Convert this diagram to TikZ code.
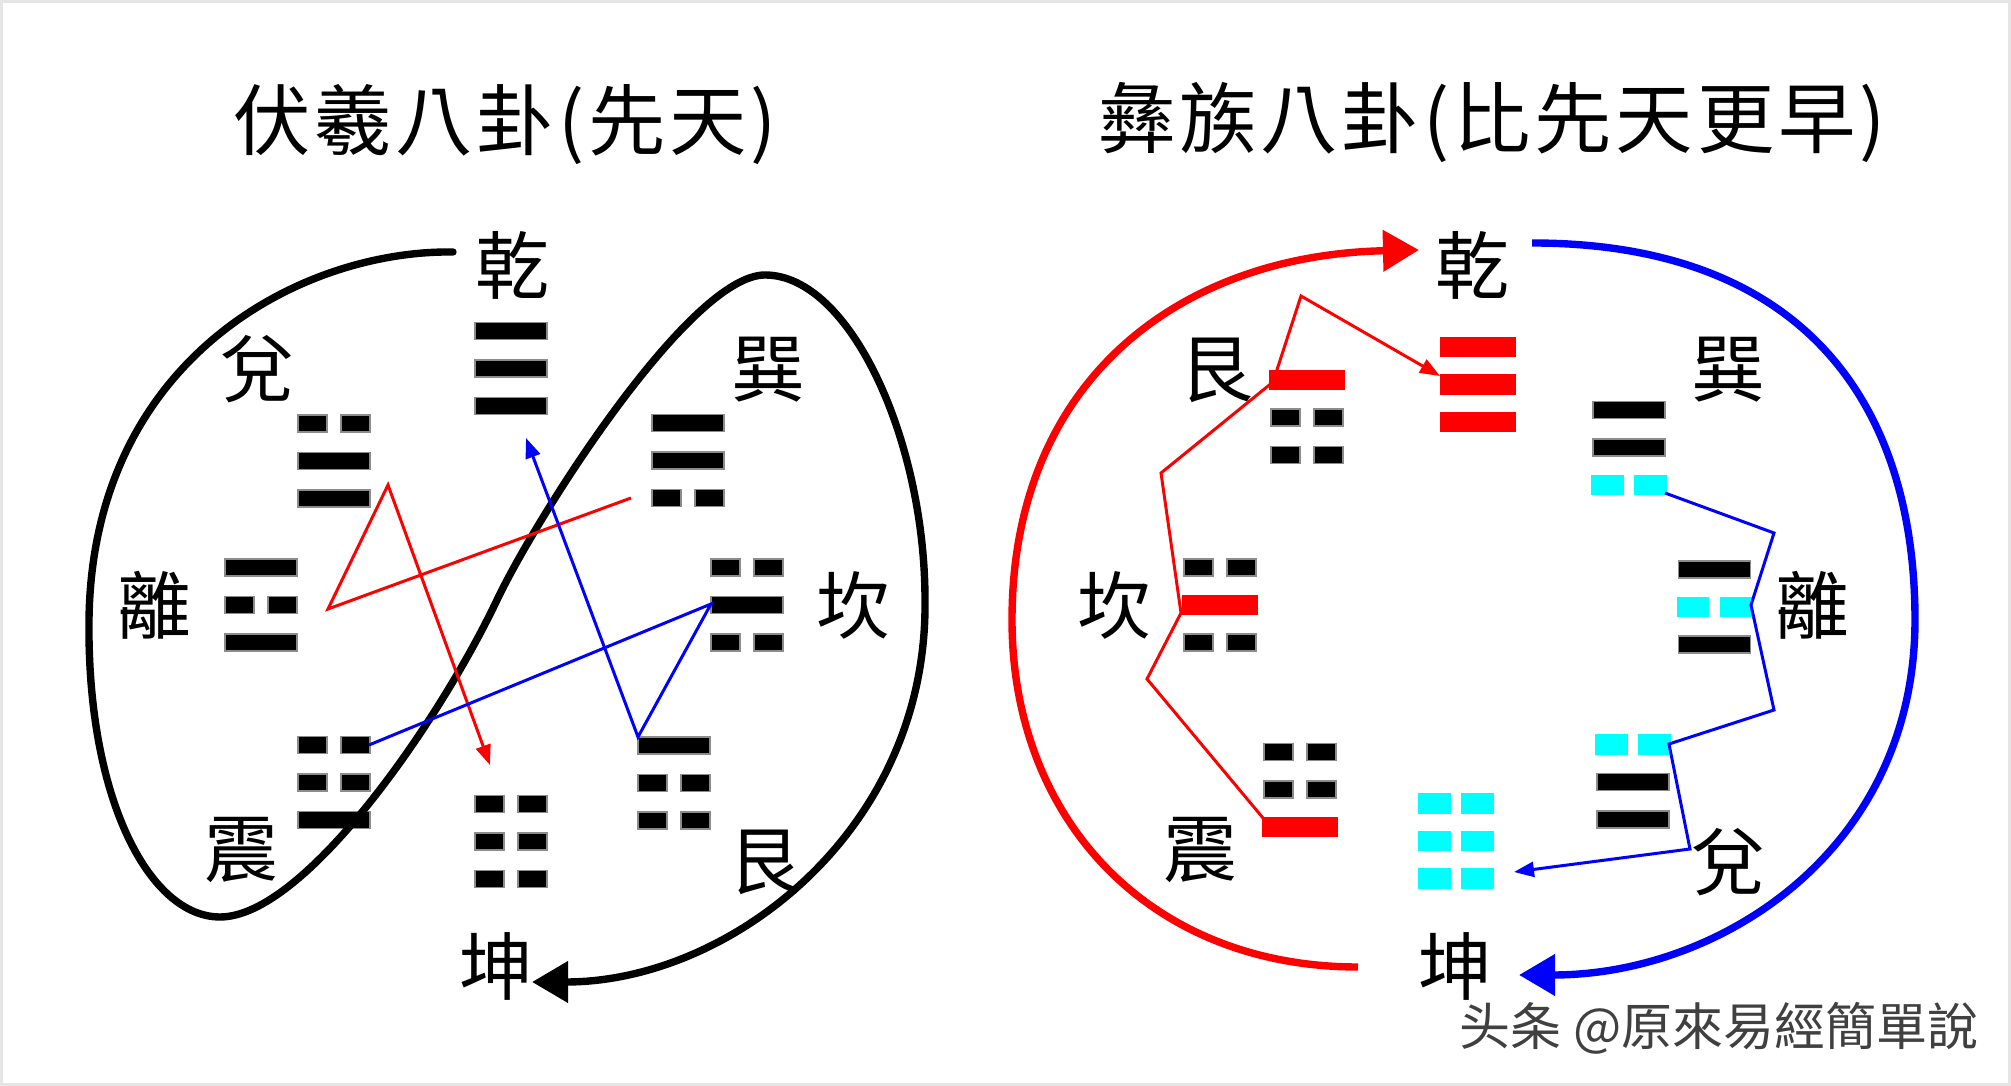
\documentclass[tikz,border=0pt]{standalone}
\usepackage{fontspec}
\setmainfont{Noto Sans CJK TC}
\usetikzlibrary{arrows.meta}

\definecolor{aqua}{RGB}{0,255,255}
\tikzset{
  kbar/.style={fill=black,draw=black!45,line width=0.4pt},
  rbar/.style={fill=red,draw=red,line width=1pt},
  cbar/.style={fill=aqua,draw=aqua,line width=1pt},
  gualabel/.style={font=\fontsize{21}{21}\selectfont,inner sep=0pt},
  title/.style={font=\fontsize{22}{22}\selectfont,inner sep=0pt},
  bigcurve/.style={line width=2.1pt},
  thinpath/.style={line width=0.85pt},
  bigtip/.style={-{Triangle[length=0.36cm,width=0.4cm]}},
  smalltip/.style={-{Triangle[length=0.2cm,width=0.15cm]}},
}

% one line of a trigram: centre x, centre y, 1 = yang / 0 = yin, style
\newcommand\yao[4]{%
  \ifnum#3=1\relax
    \path[#4] ({#1-36},{#2-8.5}) rectangle ({#1+36},{#2+8.5});
  \else
    \path[#4] ({#1-36},{#2-8.5}) rectangle ({#1-7},{#2+8.5});
    \path[#4] ({#1+7},{#2-8.5}) rectangle ({#1+36},{#2+8.5});
  \fi}
% a trigram: centre x, y of top line, lines from the top as type/style
\newcommand\gua[3]{%
  \foreach \t/\s [count=\k from 0] in {#3} {\yao{#1}{#2+37.5*\k}{\t}{\s}}}

\begin{document}
\begin{tikzpicture}[x=0.01cm,y=-0.01cm]
\useasboundingbox (0,0) rectangle (2011,1086);
\fill[white] (0,0) rectangle (2011,1086);
\draw[black!10,line width=0.03cm] (1.5,1.5) rectangle (2009.5,1084.5);

% titles
\node[title] (titleL) at (505,125) {\addfontfeature{LetterSpace=5}伏羲八卦(先天)};
\node[title] (titleR) at (1492,122) {\addfontfeature{LetterSpace=5}彝族八卦(比先天更早)};

%% left: Fuxi
\gua{511}{331}{1/kbar,1/kbar,1/kbar}
\gua{334}{423.5}{0/kbar,1/kbar,1/kbar}
\gua{688}{423}{1/kbar,1/kbar,0/kbar}
\gua{261}{567.5}{1/kbar,0/kbar,1/kbar}
\gua{747}{567.5}{0/kbar,1/kbar,0/kbar}
\gua{334}{745}{0/kbar,0/kbar,1/kbar}
\gua{511}{804}{0/kbar,0/kbar,0/kbar}
\gua{674}{745.5}{1/kbar,0/kbar,0/kbar}

\node[gualabel] (qian) at (512,265) {乾};
\node[gualabel] (dui) at (257,369) {兌};
\node[gualabel] (xun) at (768,370) {巽};
\node[gualabel] (li) at (154,605) {離};
\node[gualabel] (kan) at (853,605) {坎};
\node[gualabel] (zhen) at (241,850) {震};
\node[gualabel] (kun) at (496,966) {坤};
\node[gualabel] (gen) at (765,862) {艮};

\coordinate (loopS) at (453,252);
\coordinate (loopE) at (532,982);
\draw[bigcurve,line cap=round,bigtip] (loopS)
  .. controls (300,250) and (92,360) .. (89,620)
  .. controls (87,800) and (150,917) .. (220,917)
  .. controls (305,917) and (440,720) .. (497,600)
  .. controls (537,516) and (690,275) .. (765,275)
  .. controls (850,275) and (925,440) .. (925,600)
  .. controls (928,830) and (730,982) .. (loopE);

\coordinate (lr1) at (631,498);
\coordinate (lr2) at (328,609);
\coordinate (lr3) at (388,485);
\coordinate (lr4) at (490,765);
\draw[thinpath,red,smalltip] (lr1) -- (lr2) -- (lr3) -- (lr4);

\coordinate (lb1) at (369,745);
\coordinate (lb2) at (711,604);
\coordinate (lb3) at (638,737);
\coordinate (lb4) at (526,438);
\draw[thinpath,blue,smalltip] (lb1) -- (lb2) -- (lb3) -- (lb4);

%% right: Yi
\gua{1478}{347}{1/rbar,1/rbar,1/rbar}
\gua{1307}{380}{1/rbar,0/kbar,0/kbar}
\gua{1629}{410}{1/kbar,1/kbar,0/cbar}
\gua{1220}{567.5}{0/kbar,1/rbar,0/kbar}
\gua{1714.5}{569.5}{1/kbar,0/cbar,1/kbar}
\gua{1300}{752}{0/kbar,0/kbar,1/rbar}
\gua{1456}{803.5}{0/cbar,0/cbar,0/cbar}
\gua{1633}{744.5}{0/cbar,1/kbar,1/kbar}

\node[gualabel] (qianR) at (1472,265) {乾};
\node[gualabel] (genR) at (1216,370) {艮};
\node[gualabel] (xunR) at (1728,370) {巽};
\node[gualabel] (kanR) at (1114,605) {坎};
\node[gualabel] (liR) at (1812,605) {離};
\node[gualabel] (zhenR) at (1200,850) {震};
\node[gualabel] (kunR) at (1455,966) {坤};
\node[gualabel] (duiR) at (1728,862) {兌};

\coordinate (redS) at (1358,967);
\coordinate (redE) at (1419,250);
\draw[bigcurve,red,bigtip] (redS)
  .. controls (1150,967) and (1012,820) .. (1012,620)
  .. controls (1012,380) and (1180,255) .. (redE);

\coordinate (blueS) at (1532,243);
\coordinate (blueE) at (1519,975);
\draw[bigcurve,blue,bigtip] (blueS)
  .. controls (1800,243) and (1915,400) .. (1915,620)
  .. controls (1915,850) and (1720,975) .. (blueE);

\coordinate (rr1) at (1263,818);
\coordinate (rr2) at (1147,679);
\coordinate (rr3) at (1181,613);
\coordinate (rr4) at (1161,473);
\coordinate (rr5) at (1273,382);
\coordinate (rr6) at (1301,296);
\coordinate (rr7) at (1440,376);
\draw[thinpath,red,smalltip] (rr1) -- (rr2) -- (rr3) -- (rr4) -- (rr5) -- (rr6) -- (rr7);

\coordinate (rb1) at (1665,493);
\coordinate (rb2) at (1774,533);
\coordinate (rb3) at (1751,605);
\coordinate (rb4) at (1774,710);
\coordinate (rb5) at (1669,744);
\coordinate (rb6) at (1690,849);
\coordinate (rb7) at (1514,872);
\draw[thinpath,blue,smalltip] (rb1) -- (rb2) -- (rb3) -- (rb4) -- (rb5) -- (rb6) -- (rb7);

% watermark
\node[font=\fontsize{14.5}{14.5}\selectfont,text=black!75,inner sep=0pt] (mark) at (1719,1028) {头条 @原來易經簡單說};
\end{tikzpicture}
\end{document}
